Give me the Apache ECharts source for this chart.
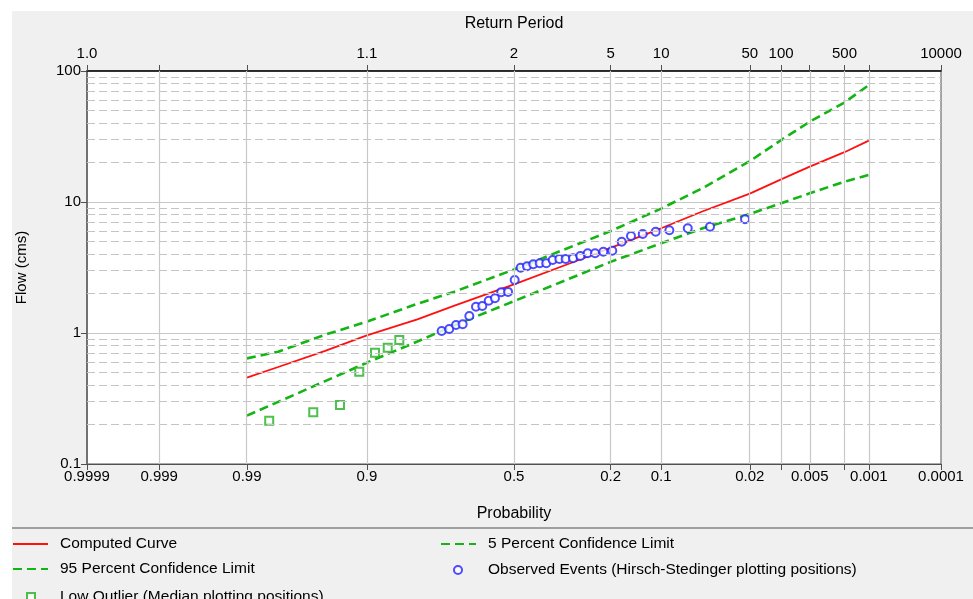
<!DOCTYPE html>
<html><head><meta charset="utf-8">
<script src="https://cdn.jsdelivr.net/npm/echarts@6/dist/echarts.min.js"></script>
<style>html,body{margin:0;padding:0;background:#fff}#c{width:973px;height:599px}</style>
</head><body><div id="c"></div>
<script>
// ---- data ----
const curveProb = [0.99,0.98,0.95,0.9,0.8,0.7,0.5,0.3,0.2,0.1,0.05,0.02,0.01,0.005,0.002,0.001];
const computedCurve = [0.456,0.55,0.73,0.96,1.27,1.61,2.35,3.50,4.46,6.3,8.5,11.6,14.9,18.6,24.0,29.4];
const upper5 = [0.64,0.72,0.97,1.22,1.67,2.06,3.05,4.65,6.0,8.9,12.8,20.5,29.7,41.0,57.5,78];
const lower95 = [0.234,0.298,0.429,0.593,0.861,1.14,1.75,2.69,3.49,4.84,6.3,8.1,9.78,11.65,14.3,16.1];
const obsProb = [0.7357,0.7136,0.6932,0.6726,0.6514,0.6297,0.6087,0.5871,0.5659,0.5442,0.5207,0.4976,0.4769,0.4550,0.4333,0.4114,0.3894,0.3681,0.3464,0.3264,0.3036,0.2816,0.2604,0.2401,0.2183,0.1960,0.1741,0.1541,0.1311,0.1086,0.0880,0.0651,0.0439,0.0221];
const obsFlow = [1.036,1.073,1.151,1.165,1.348,1.588,1.607,1.765,1.840,2.05,2.06,2.539,3.151,3.230,3.345,3.405,3.41,3.608,3.672,3.675,3.718,3.870,4.059,4.06,4.175,4.249,4.977,5.502,5.698,5.934,6.081,6.300,6.479,7.379];
const lowProb = [0.9835,0.9598,0.9352,0.9111,0.8870,0.8643,0.8411];
const lowFlow = [0.214,0.248,0.282,0.507,0.708,0.772,0.884];
const probTicks = [0.9999,0.999,0.99,0.9,0.5,0.2,0.1,0.02,0.01,0.005,0.002,0.001,0.0001];
const probLabelProbs = [0.9999,0.999,0.99,0.9,0.5,0.2,0.1,0.02,0.005,0.001,0.0001];
const probLabels = ['0.9999','0.999','0.99','0.9','0.5','0.2','0.1','0.02','0.005','0.001','0.0001'];
const rpLabelProbs = [0.9999,0.9,0.5,0.2,0.1,0.02,0.01,0.002,0.0001];
const rpLabels = ['1.0','1.1','2','5','10','50','100','500','10000'];
const minorFlowLines = [0.2,0.3,0.4,0.5,0.6,0.7,0.8,0.9,2,3,4,5,6,7,8,9,20,30,40,50,60,70,80,90];
const legendNames = ['Computed Curve','5 Percent Confidence Limit','95 Percent Confidence Limit','Observed Events (Hirsch-Stedinger plotting positions)','Low Outlier (Median plotting positions)'];

// ---- normal probability scale ----
function invNorm(p){
  const a=[-3.969683028665376e+01,2.209460984245205e+02,-2.759285104469687e+02,1.383577518672690e+02,-3.066479806614716e+01,2.506628277459239e+00];
  const b=[-5.447609879822406e+01,1.615858368580409e+02,-1.556989798598866e+02,6.680131188771972e+01,-1.328068155288572e+01];
  const c=[-7.784894002430293e-03,-3.223964580411365e-01,-2.400758277161838e+00,-2.549732539343734e+00,4.374664141464968e+00,2.938163982698783e+00];
  const d=[7.784695709041462e-03,3.224671290700398e-01,2.445134137142996e+00,3.754408661907416e+00];
  const pl=0.02425, ph=1-pl; let q,r;
  if(p<pl){q=Math.sqrt(-2*Math.log(p));return (((((c[0]*q+c[1])*q+c[2])*q+c[3])*q+c[4])*q+c[5])/((((d[0]*q+d[1])*q+d[2])*q+d[3])*q+1);}
  if(p<=ph){q=p-0.5;r=q*q;return (((((a[0]*r+a[1])*r+a[2])*r+a[3])*r+a[4])*r+a[5])*q/(((((b[0]*r+b[1])*r+b[2])*r+b[3])*r+b[4])*r+1);}
  q=Math.sqrt(-2*Math.log(1-p));return -(((((c[0]*q+c[1])*q+c[2])*q+c[3])*q+c[4])*q+c[5])/((((d[0]*q+d[1])*q+d[2])*q+d[3])*q+1);
}
const zOf = p => -invNorm(p);   // exceedance probability -> standard normal variate
const xMin = zOf(0.9999), xMax = zOf(0.0001);
function nearestLabel(v, probs, labels){
  let best=0, bd=1e9;
  probs.forEach((p,i)=>{const dd=Math.abs(zOf(p)-v); if(dd<bd){bd=dd;best=i;}});
  return bd<1e-3 ? labels[best] : '';
}
const pair = (ps, vs) => ps.map((p,i)=>[zOf(p), vs[i]]);

const FONT = 'Liberation Sans';
const GREEN = '#14b414';
const chart = echarts.init(document.getElementById('c'), null, {renderer:'canvas'});
const baseLegend = {orient:'horizontal', padding:0, itemWidth:35, itemHeight:14, selectedMode:false,
  itemStyle:{opacity:0},
  textStyle:{fontFamily:FONT, fontSize:15.5, color:'#000', padding:[0,0,0,7]}};
const symLegend = {orient:'horizontal', padding:0, itemWidth:8, itemHeight:8, selectedMode:false,
  textStyle:{fontFamily:FONT, fontSize:15.5, color:'#000', padding:[0,0,0,21]}};
chart.setOption({
  animation:false,
  backgroundColor:'#ffffff',
  graphic:[
    {type:'rect', left:12, top:11, shape:{width:961, height:588}, style:{fill:'#f0f0f0'}, z:-10, silent:true},
    {type:'rect', left:12, top:527, shape:{width:961, height:2}, style:{fill:'#a0a0a0'}, z:-9, silent:true}
  ],
  grid:{left:87, right:32, top:71, bottom:135, show:true, backgroundColor:'#ffffff', borderColor:'#555', borderWidth:1},
  xAxis:[
    {type:'value', position:'bottom', min:xMin, max:xMax,
     name:'Probability', nameLocation:'middle', nameGap:42,
     nameTextStyle:{fontFamily:FONT, fontSize:16, color:'#000'},
     axisLine:{show:true, onZero:false, lineStyle:{color:'#505050', width:1}},
     axisTick:{show:true, length:6, inside:false, customValues: probTicks.map(zOf), lineStyle:{color:'#505050'}},
     axisLabel:{show:true, margin:5, customValues: probLabelProbs.map(zOf), fontFamily:FONT, fontSize:15, color:'#000',
       formatter: v => nearestLabel(v, probLabelProbs, probLabels)},
     splitLine:{show:false}},
    {type:'value', position:'top', min:xMin, max:xMax,
     name:'Return Period', nameLocation:'middle', nameGap:39,
     nameTextStyle:{fontFamily:FONT, fontSize:16, color:'#000'},
     axisLine:{show:true, onZero:false, lineStyle:{color:'#000', width:1.5}},
     axisTick:{show:true, length:6, inside:false, customValues: probTicks.map(zOf), lineStyle:{color:'#505050'}},
     axisLabel:{show:true, margin:10, customValues: rpLabelProbs.map(zOf), fontFamily:FONT, fontSize:15, color:'#000',
       formatter: v => nearestLabel(v, rpLabelProbs, rpLabels)},
     splitLine:{show:false}}
  ],
  yAxis:[
    {type:'log', logBase:10, min:0.1, max:100,
     name:'Flow (cms)', nameLocation:'middle', nameGap:58,
     nameTextStyle:{fontFamily:FONT, fontSize:15, color:'#000'},
     axisLine:{show:true, onZero:false, lineStyle:{color:'#606060', width:1.5}},
     axisTick:{show:true, length:6, lineStyle:{color:'#505050'}},
     axisLabel:{margin:6, fontFamily:FONT, fontSize:15, color:'#000', formatter: v => String(v)},
     splitLine:{show:true, lineStyle:{color:'#c8c8c8', width:1}},
     minorTick:{show:false}, minorSplitLine:{show:false}}
  ],
  legend:[
    Object.assign({}, baseLegend, {data:[legendNames[0]], left:12, top:536}),
    Object.assign({}, baseLegend, {data:[legendNames[1]], left:440, top:536}),
    Object.assign({}, baseLegend, {data:[legendNames[2]], left:12, top:561}),
    Object.assign({}, symLegend, {data:[legendNames[3]], left:453, top:562}),
    Object.assign({}, symLegend, {data:[legendNames[4]], left:26, top:589, textStyle:Object.assign({}, symLegend.textStyle, {padding:[0,0,0,20]})})
  ],
  series:[
    {name:'grid', type:'line', data:[], z:1, silent:true,
     markLine:{silent:true, symbol:['none','none'], label:{show:false}, animation:false,
       lineStyle:{color:'#c4c4c4', type:[8,4], width:1.2},
       data: minorFlowLines.map(v=>({yAxis:v}))
         .concat(probTicks.slice(1,-1).map(p=>({xAxis:zOf(p), lineStyle:{type:'solid', color:'#c8c8c8', width:1.2}})))}},
    {name:legendNames[0], type:'line', data:pair(curveProb, computedCurve), symbol:'none', smooth:false, z:3,
     lineStyle:{color:'#ff1010', width:1.8}, itemStyle:{color:'#ff1010'}},
    {name:legendNames[1], type:'line', data:pair(curveProb, upper5), symbol:'none', z:3,
     lineStyle:{color:GREEN, width:2.6, type:[9,5]}, itemStyle:{color:GREEN}},
    {name:legendNames[2], type:'line', data:pair(curveProb, lower95), symbol:'none', z:3,
     lineStyle:{color:GREEN, width:2.6, type:[9,5]}, itemStyle:{color:GREEN}},
    {name:legendNames[3], type:'scatter', data:pair(obsProb, obsFlow), symbol:'emptyCircle', symbolSize:8, z:4,
     itemStyle:{color:'#2020ff', borderColor:'#2020ff', borderWidth:1.2}},
    {name:legendNames[4], type:'scatter', data:pair(lowProb, lowFlow), symbol:'emptyRect', symbolSize:8, z:4,
     itemStyle:{color:'#20b020', borderColor:'#20b020', borderWidth:1.2}}
  ]
});
</script></body></html>
